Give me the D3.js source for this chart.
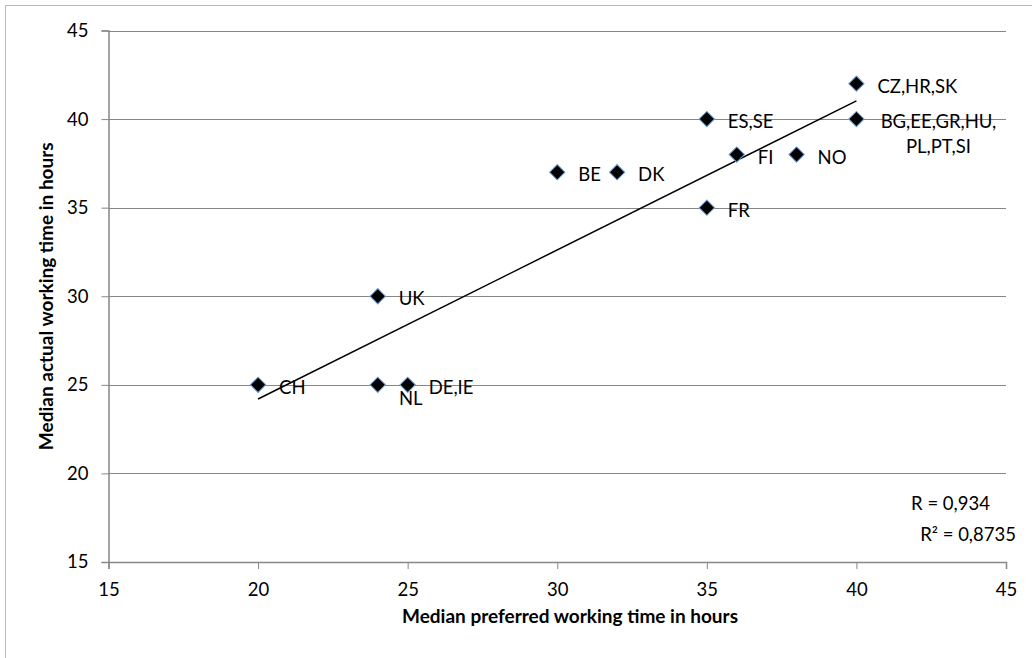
<!DOCTYPE html>
<html>
<head>
<meta charset="utf-8">
<script src="https://cdn.jsdelivr.net/npm/d3@7"></script>
<style>
  html, body { margin: 0; padding: 0; background: #fff; }
  svg { display: block; }
  text { font-family: Lato, "Open Sans", sans-serif; fill: #000; }
</style>
</head>
<body>
<svg id="chart" width="1032" height="658"></svg>
<script>
// ---- data ----
const labels = ["CH", "NL", "DE,IE", "UK", "BE", "DK", "ES,SE", "FR", "FI", "NO", "CZ,HR,SK", "BG,EE,GR,HU,|PL,PT,SI"];
const preferred = [20, 24, 25, 24, 30, 32, 35, 35, 36, 38, 40, 40];
const actual    = [25, 25, 25, 30, 37, 37, 40, 35, 38, 38, 42, 40];
const trendX = [20, 40];
const trendY = [24.2, 41.03];
const xTicks = [15, 20, 25, 30, 35, 40, 45];
const yTicks = [15, 20, 25, 30, 35, 40, 45];
const statR = "R = 0,934";
const statR2 = "R² = 0,8735";

// ---- layout ----
const svg = d3.select("#chart");
const plot = { left: 108.5, right: 1006, top: 30.5, bottom: 562 };
const x = d3.scaleLinear().domain([15, 45]).range([plot.left, plot.right]);
const y = d3.scaleLinear().domain([15, 45]).range([plot.bottom, plot.top]);
const axisColor = "#878787";
const fs = 18.5;

// outer border
svg.append("rect").attr("x", 5.5).attr("y", 5.5).attr("width", 1040).attr("height", 670)
  .attr("fill", "none").attr("stroke", "#b8b8b8").attr("stroke-width", 1);

// gridlines
svg.append("g").selectAll("line").data(yTicks.filter(t => t !== 15)).join("line")
  .attr("x1", plot.left).attr("x2", plot.right)
  .attr("y1", d => Math.round(y(d)) + 0.5).attr("y2", d => Math.round(y(d)) + 0.5)
  .attr("stroke", axisColor).attr("stroke-width", 1);

// y axis
const yAxis = svg.append("g").attr("transform", `translate(${plot.left},0)`)
  .call(d3.axisLeft(y).tickValues(yTicks).tickSize(7).tickPadding(13).tickFormat(d3.format("d")));
// x axis
const xAxis = svg.append("g").attr("transform", `translate(0,${plot.bottom})`)
  .call(d3.axisBottom(x).tickValues(xTicks).tickSize(7).tickPadding(14).tickFormat(d3.format("d")));
[xAxis, yAxis].forEach(g => {
  g.select(".domain").attr("stroke", axisColor).attr("stroke-width", 1.5);
  g.selectAll(".tick line").attr("stroke", axisColor);
  g.selectAll(".tick text").attr("font-size", fs).attr("font-family", "Lato, sans-serif").attr("fill", "#000");
});

// trend line
svg.append("path")
  .attr("d", d3.line().x(d => x(d[0])).y(d => y(d[1]))(trendX.map((v, i) => [v, trendY[i]])))
  .attr("fill", "none").attr("stroke", "#000").attr("stroke-width", 1.5);

// markers
const pts = labels.map((l, i) => ({ label: l, px: preferred[i], py: actual[i] }));
svg.append("g").selectAll("path").data(pts).join("path")
  .attr("d", d3.symbol(d3.symbolSquare, 118))
  .attr("transform", d => `translate(${x(d.px)},${y(d.py)}) rotate(45)`)
  .attr("fill", "#000").attr("stroke", "#6f9fd8").attr("stroke-width", 1);

// data labels
const lab = svg.append("g").attr("font-size", fs);
pts.forEach(d => {
  const cx = x(d.px), cy = y(d.py);
  const lines = d.label.split("|");
  if (d.label === "NL") {
    lab.append("text").attr("x", cx + 33).attr("y", cy + 20).attr("text-anchor", "middle").text(d.label);
  } else if (lines.length > 1) {
    const t = lab.append("text").attr("text-anchor", "middle");
    lines.forEach((s, k) => t.append("tspan").attr("x", cx + 82).attr("y", cy + 9 + k * 25).text(s));
  } else {
    lab.append("text").attr("x", cx + 21).attr("y", cy + 9).text(d.label);
  }
});

// stats
svg.append("text").attr("x", 990).attr("y", 510).attr("text-anchor", "end").attr("font-size", fs).text(statR);
svg.append("text").attr("x", 1016).attr("y", 541).attr("text-anchor", "end").attr("font-size", fs).text(statR2);

// axis titles
svg.append("text").attr("x", 570).attr("y", 623).attr("text-anchor", "middle")
  .attr("font-size", 19).attr("font-weight", "bold").text("Median preferred working time in hours");
svg.append("text").attr("transform", `translate(53,${(plot.top + plot.bottom) / 2}) rotate(-90)`)
  .attr("text-anchor", "middle").attr("font-size", 19).attr("font-weight", "bold")
  .text("Median actual working time in hours");
</script>
</body>
</html>
